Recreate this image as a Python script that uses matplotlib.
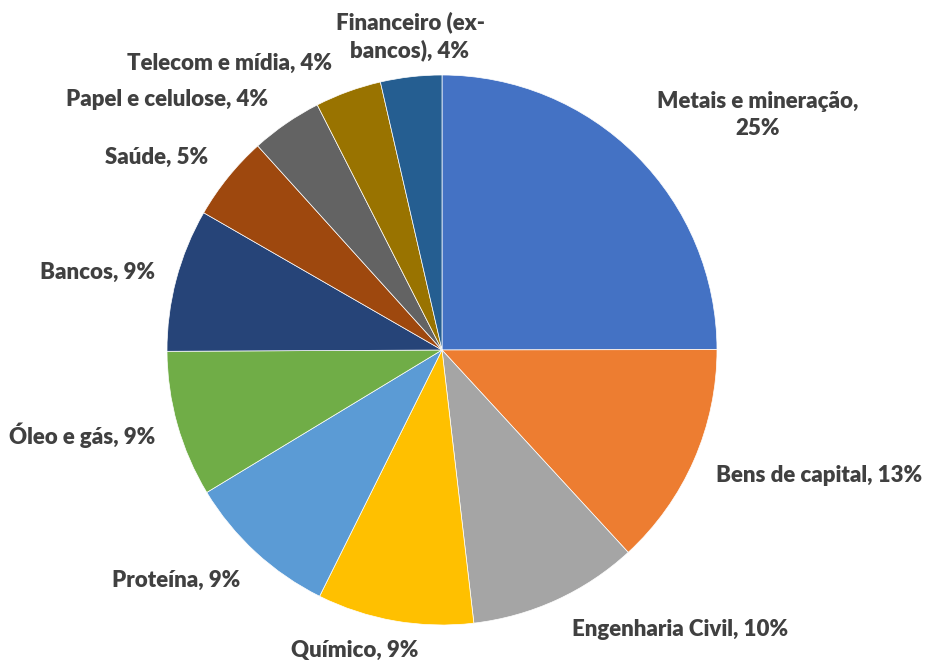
import matplotlib
matplotlib.use("Agg")
import matplotlib.pyplot as plt

categories = ["Metais e mineração", "Bens de capital", "Engenharia Civil", "Químico",
              "Proteína", "Óleo e gás", "Bancos", "Saúde", "Papel e celulose",
              "Telecom e mídia", "Financeiro (ex-bancos)"]
values = [25.0, 13.2, 10.0, 9.2, 9.0, 8.6, 8.4, 5.0, 4.2, 3.9, 3.6]
pct_labels = [25, 13, 10, 9, 9, 9, 9, 5, 4, 4, 4]
label_text = ["Metais e mineração,\n25%", "Bens de capital, 13%", "Engenharia Civil, 10%",
              "Químico, 9%", "Proteína, 9%", "Óleo e gás, 9%", "Bancos, 9%", "Saúde, 5%",
              "Papel e celulose, 4%", "Telecom e mídia, 4%", "Financeiro (ex-\nbancos), 4%"]
colors = ["#4472C4", "#ED7D31", "#A5A5A5", "#FFC000", "#5B9BD5", "#70AD47",
          "#264478", "#9E480E", "#636363", "#997300", "#255E91"]

W, H = 925, 660
fig = plt.figure(figsize=(W / 100, H / 100), dpi=100)
ax = fig.add_axes([0, 0, 1, 1])

cx, cy, r = 442, H - 350, 275
ax.pie(values, colors=colors, startangle=90, counterclock=False, center=(cx, cy),
       radius=r, wedgeprops=dict(edgecolor="white", linewidth=0.5), frame=True)
ax.set_xlim(0, W)
ax.set_ylim(0, H)
ax.set_aspect("equal")
ax.axis("off")

# label layout (x, y in pixels from top-left, horizontal alignment)
label_pos = [(758, 115, "center"), (716, 475, "left"), (572, 630, "left"),
             (355, 650, "center"), (240, 580, "right"), (155, 435, "right"),
             (155, 272, "right"), (208, 157, "right"), (268, 100, "right"),
             (332, 63, "right"), (410, 36, "center")]
for txt, (x, y, ha) in zip(label_text, label_pos):
    ax.text(x, H - y, txt, ha=ha, va="center", fontsize=16, fontweight="heavy",
            family=["Lato", "DejaVu Sans"], color="#404040", linespacing=1.33,
            multialignment="center")

fig.savefig("out.png", dpi=100)
